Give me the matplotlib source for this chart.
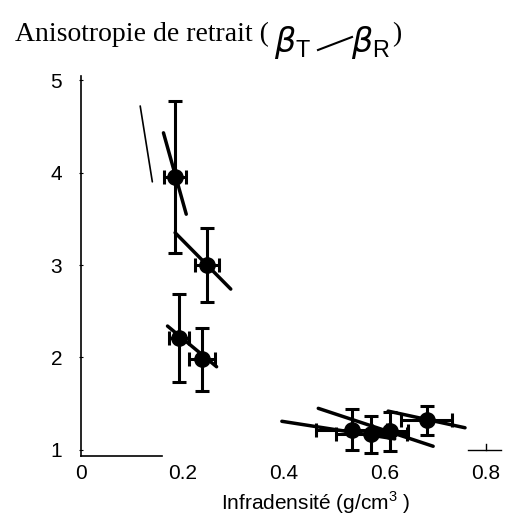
import matplotlib
matplotlib.use("Agg")
import matplotlib.pyplot as plt
from matplotlib.lines import Line2D

plt.rcParams['font.family'] = ['Liberation Sans', 'DejaVu Sans']
plt.rcParams['mathtext.fontset'] = 'custom'
plt.rcParams['mathtext.rm'] = 'Liberation Sans'
plt.rcParams['mathtext.it'] = 'DejaVu Sans:italic'

# mesures (infradensite, anisotropie) avec barres d'erreur
dens = [0.186, 0.249, 0.193, 0.239, 0.535, 0.574, 0.611, 0.683]
aniso = [3.95, 3.00, 2.21, 1.98, 1.22, 1.17, 1.20, 1.32]
yerr = [0.82, 0.40, 0.48, 0.34, 0.22, 0.20, 0.21, 0.16]
xerr = [0.022, 0.024, 0.020, 0.026, 0.070, 0.070, 0.035, 0.050]

# droites de tendance (extremites)
seg_x = [(0.117, 0.141), (0.163, 0.208), (0.186, 0.296), (0.171, 0.268),
         (0.397, 0.620), (0.469, 0.696), (0.607, 0.759)]
seg_y = [(4.72, 3.90), (4.43, 3.55), (3.35, 2.74), (2.34, 1.90),
         (1.31, 1.12), (1.45, 1.04), (1.42, 1.24)]
seg_w = [1.2, 2.5, 2.5, 2.5, 2.5, 2.5, 2.5]

xticks = [0, 0.2, 0.4, 0.6, 0.8]
xtick_labels = ['0', '0.2', '0.4', '0.6', '0.8']
yticks = [1, 2, 3, 4, 5]

W, H = 505, 517
fig = plt.figure(figsize=(W / 100, H / 100), dpi=100)
ax = fig.add_axes([81 / W, 61.5 / H, 425 / W, 380 / H])

for sx, sy, lw in zip(seg_x, seg_y, seg_w):
    ax.plot(sx, sy, color='black', lw=lw, solid_capstyle='round')

ax.errorbar(dens, aniso, yerr=yerr, xerr=xerr, fmt='o', color='black',
            ms=11, elinewidth=2.2, capsize=5, capthick=2.2)

ax.set_xlim(0, 0.84)
ax.set_ylim(0.94, 5.05)

ax.spines['top'].set_visible(False)
ax.spines['right'].set_visible(False)
ax.spines['bottom'].set_bounds(0, 0.16)
ax.spines['left'].set_linewidth(1.2)
ax.spines['bottom'].set_linewidth(1.2)

# petit morceau d'axe pres de 0.8
ax.plot([0.765, 0.83], [1.0, 1.0], color='black', lw=1.0)
ax.plot([0.8, 0.8], [1.0, 1.06], color='black', lw=1.0)

ax.set_xticks(xticks)
ax.set_xticklabels(xtick_labels)
ax.set_yticks(yticks)
ax.tick_params(axis='x', length=0, pad=6, labelsize=15)
ax.tick_params(axis='y', length=3, direction='inout', pad=12, labelsize=15)

fig.text(316 / W, 1 - 510 / H, 'Infradensité (g/cm$^{3}$ )', ha='center',
         va='baseline', fontsize=15)

# titre
fig.text(15 / W, 1 - 41 / H, 'Anisotropie de retrait (', ha='left',
         va='baseline', fontsize=20, family='Liberation Serif')
fig.text(274 / W, 1 - 52 / H, r'$\beta_{\mathrm{T}}$', ha='left',
         va='baseline', fontsize=24)
fig.add_artist(Line2D([318 / W, 352 / W], [1 - 50 / H, 1 - 37 / H],
                      transform=fig.transFigure, color='black', lw=1.5))
fig.text(351 / W, 1 - 52 / H, r'$\beta_{\mathrm{R}}$', ha='left',
         va='baseline', fontsize=24)
fig.text(392 / W, 1 - 41 / H, ')', ha='left', va='baseline', fontsize=20,
         family='Liberation Serif')

fig.savefig('out.png', dpi=100)
